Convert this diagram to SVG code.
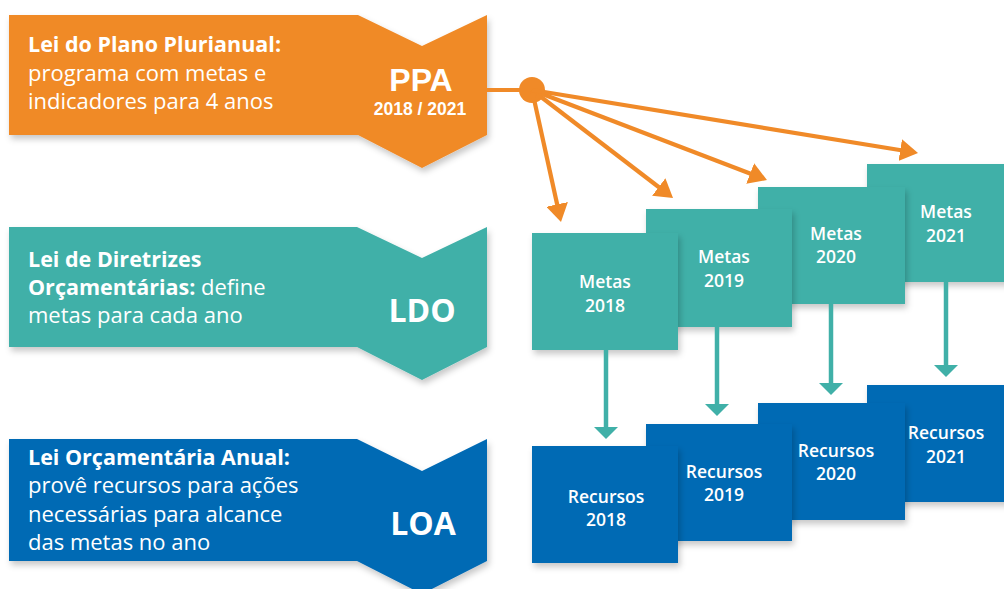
<svg xmlns="http://www.w3.org/2000/svg" width="1004" height="589" viewBox="0 0 1004 589">
  <defs>
    <filter id="sh" x="-10%" y="-10%" width="125%" height="130%">
      <feDropShadow dx="2" dy="4" stdDeviation="3" flood-color="#000" flood-opacity="0.22"/>
    </filter>
    <marker id="ao" viewBox="0 0 18 22" markerWidth="18" markerHeight="22" refX="4" refY="11" orient="auto" markerUnits="userSpaceOnUse">
      <path d="M0,0 L18,11 L0,22 Z" fill="#F08A28"/>
    </marker>
    <marker id="at" viewBox="0 0 12 24" markerWidth="12" markerHeight="24" refX="2" refY="12" orient="auto" markerUnits="userSpaceOnUse">
      <path d="M0,0 L12,12 L0,24 Z" fill="#40B0A8"/>
    </marker>
    <style>
      text { font-family: "Open Sans", "Noto Sans", "Liberation Sans", sans-serif; fill: #fff; }
      .b { font-weight: 700; }
      .desc { font-size: 22px; }
      .hd { font-size: 21.5px; font-weight: 700; }
      .big { font-size: 32px; font-weight: 700; text-anchor: middle; }
      .ls { font-family: "Liberation Sans", Arial, sans-serif; }
      .box { font-size: 17.5px; font-weight: 600; text-anchor: middle; }
      .orange { fill: #F08A28; }
      .teal { fill: #40B0A8; }
      .blue { fill: #006AB4; }
      .lo { stroke: #F08A28; stroke-width: 4.2; fill: none; }
      .lt { stroke: #40B0A8; stroke-width: 4.5; fill: none; }
    </style>
  </defs>
  <rect width="1004" height="589" fill="#fff"/>

  <g id="ppa">
    <path class="orange" filter="url(#sh)" d="M9,15 L358,15 L422,46 L487,15 L487,135 L422,168 L358,135 L9,135 Z"/>
    <text class="hd" x="28" y="52">Lei do Plano Plurianual:</text>
    <text class="desc" x="28" y="81">programa com metas e</text>
    <text class="desc" x="28" y="109">indicadores para 4 anos</text>
    <text class="big ls" x="421" y="91" font-size="31">PPA</text>
    <text class="b ls" x="420" y="115" font-size="17.5" text-anchor="middle">2018 / 2021</text>
  </g>

  <g id="ldo">
    <path class="teal" filter="url(#sh)" d="M9,227 L357,227 L422,258 L487,227 L487,347 L422,380 L357,347 L9,347 Z"/>
    <text class="hd" x="28" y="267">Lei de Diretrizes</text>
    <text class="desc" x="28" y="295"><tspan class="b" font-size="21.5">Orçamentárias:</tspan> define</text>
    <text class="desc" x="28" y="323">metas para cada ano</text>
    <text class="big" x="422" y="322">LDO</text>
  </g>

  <g id="loa">
    <path class="blue" filter="url(#sh)" d="M9,439 L357,439 L422,471 L487,439 L487,561 L422,594 L357,561 L9,561 Z"/>
    <text class="hd" x="28" y="465">Lei Orçamentária Anual:</text>
    <text class="desc" x="28" y="493">provê recursos para ações</text>
    <text class="desc" x="28" y="522">necessárias para alcance</text>
    <text class="desc" x="28" y="550">das metas no ano</text>
    <text class="big" x="423" y="535">LOA</text>
  </g>

  <g id="metas-2021">
    <rect class="teal" filter="url(#sh)" x="867" y="164" width="150" height="118"/>
    <text class="box" x="946" y="218">Metas</text>
    <text class="box" x="946" y="242">2021</text>
  </g>
  <g id="metas-2020">
    <rect class="teal" filter="url(#sh)" x="758" y="187" width="147" height="117"/>
    <text class="box" x="836" y="240">Metas</text>
    <text class="box" x="836" y="263">2020</text>
  </g>
  <g id="metas-2019">
    <rect class="teal" filter="url(#sh)" x="646" y="209" width="146" height="118"/>
    <text class="box" x="724" y="263">Metas</text>
    <text class="box" x="724" y="287">2019</text>
  </g>
  <g id="metas-2018">
    <rect class="teal" filter="url(#sh)" x="532" y="233" width="146" height="117"/>
    <text class="box" x="605" y="288">Metas</text>
    <text class="box" x="605" y="312">2018</text>
  </g>

  <g id="recursos-2021">
    <rect class="blue" filter="url(#sh)" x="867" y="385" width="150" height="117"/>
    <text class="box" x="946" y="439">Recursos</text>
    <text class="box" x="946" y="463">2021</text>
  </g>
  <g id="recursos-2020">
    <rect class="blue" filter="url(#sh)" x="758" y="403" width="147" height="117"/>
    <text class="box" x="836" y="457">Recursos</text>
    <text class="box" x="836" y="480">2020</text>
  </g>
  <g id="recursos-2019">
    <rect class="blue" filter="url(#sh)" x="646" y="424" width="146" height="117"/>
    <text class="box" x="724" y="478">Recursos</text>
    <text class="box" x="724" y="501">2019</text>
  </g>
  <g id="recursos-2018">
    <rect class="blue" filter="url(#sh)" x="532" y="446" width="146" height="117"/>
    <text class="box" x="606" y="503">Recursos</text>
    <text class="box" x="606" y="526">2018</text>
  </g>

  <g id="connectors">
    <line class="lo" x1="487" y1="90" x2="532" y2="90"/>
    <circle cx="532" cy="90" r="13" fill="#F08A28"/>
    <line class="lo" x1="532" y1="90" x2="558" y2="208.3" marker-end="url(#ao)"/>
    <line class="lo" x1="532" y1="90" x2="661.9" y2="189.5" marker-end="url(#ao)"/>
    <line class="lo" x1="532" y1="90" x2="753.9" y2="175" marker-end="url(#ao)"/>
    <line class="lo" x1="532" y1="90" x2="904.2" y2="150.7" marker-end="url(#ao)"/>
    <line class="lt" x1="606" y1="350" x2="606" y2="429" marker-end="url(#at)"/>
    <line class="lt" x1="717" y1="327" x2="717" y2="406" marker-end="url(#at)"/>
    <line class="lt" x1="831" y1="304" x2="831" y2="385" marker-end="url(#at)"/>
    <line class="lt" x1="946" y1="282" x2="946" y2="367" marker-end="url(#at)"/>
  </g>
</svg>
